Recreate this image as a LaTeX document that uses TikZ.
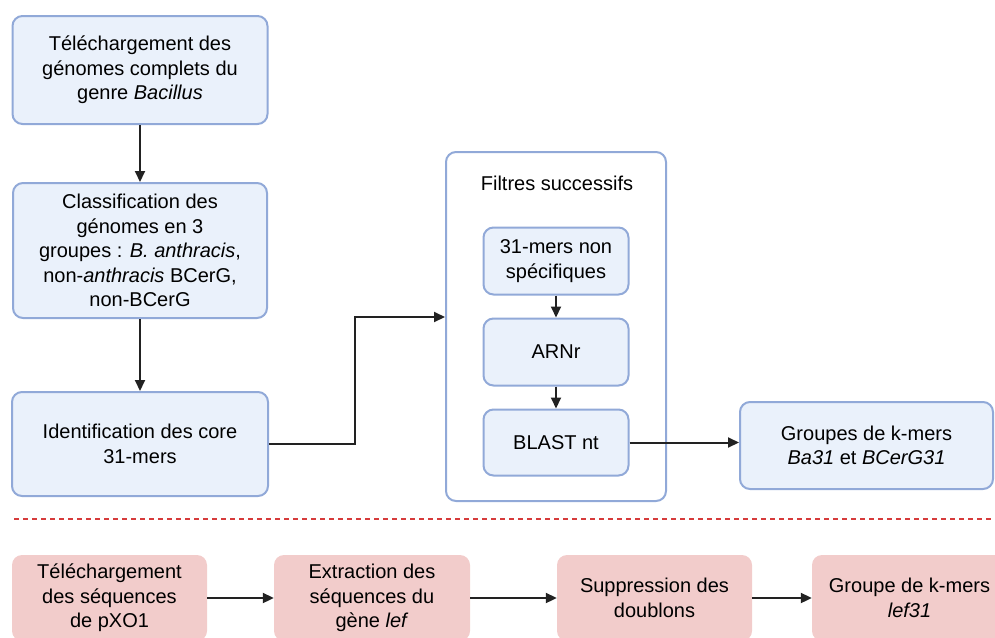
\documentclass[tikz,border=0pt]{standalone}
\usepackage{fontspec}
\setmainfont{Liberation Sans}
\usetikzlibrary{arrows.meta}
\definecolor{bfill}{HTML}{EAF1FB}
\definecolor{bdraw}{HTML}{91A9D8}
\definecolor{pfill}{HTML}{F2CCCB}
\definecolor{dred}{HTML}{D63B3B}
\definecolor{arrc}{HTML}{222222}
\tikzset{
  txt/.style={font=\fontsize{20}{24.5}\selectfont, align=center, text=black},
  bbox/.style={txt, draw=bdraw, fill=bfill, line width=2pt, rounded corners=10pt, inner sep=0pt},
  pbox/.style={txt, fill=pfill, rounded corners=10pt, inner sep=0pt},
  frm/.style={draw=bdraw, fill=white, line width=2pt, rounded corners=10pt, inner sep=0pt},
  arr/.style={draw=arrc, line width=2pt, -{Triangle[length=11pt,width=10pt]}},
}
\begin{document}
\begin{tikzpicture}[x=1pt,y=-1pt]
\useasboundingbox (0,0) rectangle (995,637);
\clip (0,0) rectangle (995,637);
% top-left column
\node[bbox, minimum width=255pt, minimum height=108pt] (b1) at (140,70)
  {Téléchargement des\\génomes complets du\\genre \textit{Bacillus}};
\node[bbox, minimum width=254pt, minimum height=135pt] (b2) at (140,250.5)
  {Classification des\\génomes en 3\\groupes : \textit{B. anthracis},\\non-\textit{anthracis} BCerG,\\non-BCerG};
\node[bbox, minimum width=256pt, minimum height=104pt] (b3) at (140,444)
  {Identification des core\\31-mers};
% frame
\node[frm, minimum width=220pt, minimum height=349pt] (fr) at (556,326.5) {};
\node[txt] (ft) at (557,183) {Filtres successifs};
\node[bbox, minimum width=145pt, minimum height=67pt] (fa) at (556,261)
  {31-mers non\\spécifiques};
\node[bbox, minimum width=145pt, minimum height=67pt] (fb) at (556,352) {ARNr};
\node[bbox, minimum width=145pt, minimum height=66pt] (fc) at (556,442.5) {BLAST nt};
% result
\node[bbox, minimum width=253pt, minimum height=87pt] (gr) at (866.5,445.5)
  {Groupes de k-mers\\\textit{Ba31} et \textit{BCerG31}};
% arrows top
\draw[arr] (b1.south) -- (b2.north);
\draw[arr] (b2.south) -- (b3.north);
\coordinate (k) at (355,317);
\draw[arr] (b3.east) -| (k) -- (fr.west |- k);
\draw[arr] (fa.south) -- (fb.north);
\draw[arr] (fb.south) -- (fc.north);
\draw[arr] (fc.east) -- (gr.west |- fc.east);
% dashed separator
\coordinate (d1) at (14,519);
\coordinate (d2) at (995,519);
\draw[dred, line width=1.8pt, dash pattern=on 5pt off 4pt] (d1) -- (d2);
% bottom row
\node[pbox, minimum width=195pt, minimum height=86pt] (p1) at (109.5,598)
  {Téléchargement\\des séquences\\de pXO1};
\node[pbox, minimum width=196pt, minimum height=86pt] (p2) at (372,598)
  {Extraction des\\séquences du\\gène \textit{lef}};
\node[pbox, minimum width=195pt, minimum height=86pt] (p3) at (654.5,598)
  {Suppression des\\doublons};
\node[pbox, minimum width=195pt, minimum height=86pt] (p4) at (909.5,598)
  {Groupe de k-mers\\\textit{lef31}};
\draw[arr] (p1.east) -- (p2.west);
\draw[arr] (p2.east) -- (p3.west);
\draw[arr] (p3.east) -- (p4.west);
\end{tikzpicture}
\end{document}
